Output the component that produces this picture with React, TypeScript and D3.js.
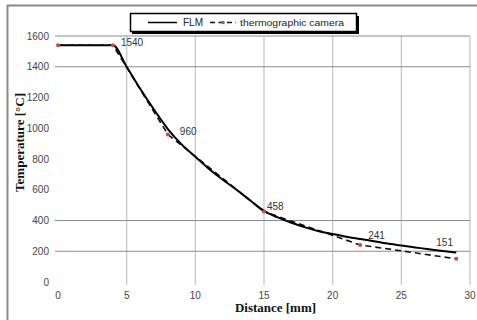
import React from "react";
import * as d3 from "d3";

const flmX = [0, 4, 5, 6, 7, 8, 9, 10, 11, 12, 13, 14, 15, 16, 17, 18, 19, 20, 21, 22, 23, 24, 25, 26, 27, 28, 29];
const flmY = [1540, 1540, 1400, 1255, 1120, 995, 895, 815, 735, 665, 600, 530, 462, 420, 385, 355, 330, 312, 295, 280, 265, 250, 237, 225, 213, 202, 192];
const camX = [0, 4, 8, 15, 22, 29];
const camY = [1540, 1540, 960, 458, 241, 151];
const labelIdx = [1, 2, 3, 4, 5];
const labelDx = [8, 12, 3, 8, -20];
const labelDy = [-3, -3, -5, -9, -16];
const xTicks = [0, 5, 10, 15, 20, 25, 30];
const yTicks = [0, 200, 400, 600, 800, 1000, 1200, 1400, 1600];
const hGrid = [200, 400, 1400, 1600];
const vGrid = [5, 10, 15, 20, 25, 30];

export default function App() {
  const W = 477, H = 320;
  const x = d3.scaleLinear().domain([0, 30]).range([58, 470]);
  const y = d3.scaleLinear().domain([0, 1600]).range([282, 36]);
  const flm = flmX.map((d, i) => [d, flmY[i]] as [number, number]);
  const cam = camX.map((d, i) => [d, camY[i]] as [number, number]);
  const lineFlm = d3.line<[number, number]>().x(d => x(d[0])).y(d => y(d[1])).curve(d3.curveMonotoneX);
  const lineCam = d3.line<[number, number]>().x(d => x(d[0])).y(d => y(d[1]));
  const tickFont = "'Liberation Sans', Arial, sans-serif";
  const serif = "'Liberation Serif', 'Times New Roman', serif";
  return (
    <svg width={W} height={H} style={{ position: "absolute", left: 0, top: 0, background: "#fff" }}>
      <rect x={0} y={0} width={W} height={H} fill="#fff" />
      {/* frame */}
      <line x1={7} y1={5.5} x2={W} y2={5.5} stroke="#8a8a8a" strokeWidth={2} />
      <line x1={7.5} y1={5} x2={7.5} y2={H} stroke="#8a8a8a" strokeWidth={2} />
      {/* grid */}
      {vGrid.map(v => (
        <line key={"v" + v} x1={x(v)} x2={x(v)} y1={y(1600)} y2={y(0) + 3} stroke="#c4c4c4" strokeWidth={1.2} />
      ))}
      {hGrid.map(v => (
        <line key={"h" + v} x1={x(0) - 3} x2={x(30)} y1={y(v)} y2={y(v)} stroke="#8c8c8c" strokeWidth={1} />
      ))}
      {/* ticks */}
      {yTicks.map(v => (
        <text key={"yt" + v} x={49} y={y(v)} dy="0.35em" textAnchor="end" fontSize={10} fontFamily={tickFont} fill="#444">{v}</text>
      ))}
      {xTicks.map(v => (
        <text key={"xt" + v} x={x(v)} y={295.5} dy="0.35em" textAnchor="middle" fontSize={10} fontFamily={tickFont} fill="#444">{v}</text>
      ))}
      {/* lines */}
      <path d={lineCam(cam) || ""} fill="none" stroke="#111" strokeWidth={1.6} strokeDasharray="6,4" />
      <path d={lineFlm(flm) || ""} fill="none" stroke="#000" strokeWidth={2} />
      {cam.map((d, i) => (
        <circle key={"m" + i} cx={x(d[0])} cy={y(d[1])} r={2} fill="#c0504d" />
      ))}
      {labelIdx.map((idx, k) => (
        <text key={"l" + k} x={x(camX[idx]) + labelDx[k]} y={y(camY[idx]) + labelDy[k]} dy="0.35em" fontSize={10} fontFamily={tickFont} fill="#333">{camY[idx]}</text>
      ))}
      {/* axis titles */}
      <text x={275.5} y={312} textAnchor="middle" fontSize={12} fontWeight="bold" fontFamily={serif} fill="#111" textLength={81} lengthAdjust="spacingAndGlyphs">Distance [mm]</text>
      <text transform="translate(20,142.5) rotate(-90)" textAnchor="middle" dy="0.35em" fontSize={12} fontWeight="bold" fontFamily={serif} fill="#111" textLength={99} lengthAdjust="spacingAndGlyphs">Temperature [°C]</text>
      {/* legend */}
      <rect x={132} y={16} width={227} height={18} fill="#000" />
      <rect x={130.5} y={13.5} width={226} height={18} fill="#fff" stroke="#000" strokeWidth={1.5} />
      <line x1={148} x2={177} y1={22.5} y2={22.5} stroke="#000" strokeWidth={1.5} />
      <text x={183} y={22.5} dy="0.35em" fontSize={10} fontFamily={tickFont} fill="#222">FLM</text>
      <line x1={210} x2={236} y1={22.5} y2={22.5} stroke="#111" strokeWidth={1.3} strokeDasharray="5,3.5" />
      <circle cx={223} cy={22.5} r={1.8} fill="#c0504d" />
      <text x={240} y={22.5} dy="0.35em" fontSize={9.5} fontFamily={tickFont} fill="#222" textLength={104} lengthAdjust="spacingAndGlyphs">thermographic camera</text>
    </svg>
  );
}
